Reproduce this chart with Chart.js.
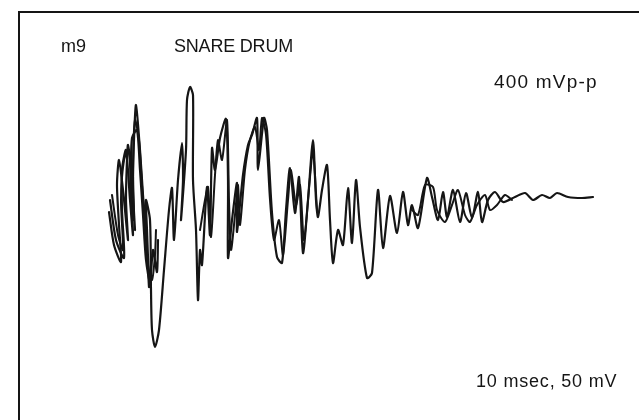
<!DOCTYPE html>
<html>
<head>
<meta charset="utf-8">
<script src="https://cdn.jsdelivr.net/npm/chart.js@4/dist/chart.umd.min.js"></script>
<style>
  html, body { margin: 0; padding: 0; background: #fff; }
  #wrap { position: relative; width: 639px; height: 420px; overflow: hidden; background: #fff; }
  #frame { position: absolute; left: 18px; top: 11px; right: -10px; bottom: -10px; border-top: 2px solid #151515; border-left: 2px solid #151515; }
  canvas { position: absolute; left: 0; top: 0; }
  .lbl { position: absolute; font-family: 'Liberation Sans', Arial, sans-serif; font-size: 18px; color: #151515; white-space: nowrap; line-height: 1; }
</style>
</head>
<body>
<div id="wrap">
  <div id="frame"></div>
  <canvas id="scope" width="639" height="420"></canvas>
  <div class="lbl" style="left:61px;top:37px">m9</div>
  <div class="lbl" style="left:174px;top:37px;letter-spacing:-0.2px">SNARE DRUM</div>
  <div class="lbl" style="left:494px;top:72px;font-size:19px;letter-spacing:1.2px">400 mVp-p</div>
  <div class="lbl" style="left:476px;top:372px;letter-spacing:0.8px">10 msec, 50 mV</div>
</div>
<script>
// time in msec, level in mV (readings, several overlaid sweeps)
const sweepATime = [0.1, 0.6, 1.3, 1.1, 0.9, 1.1, 1.5, 2.0, 1.8, 1.9, 2.0, 2.4, 2.7, 2.5, 2.6, 2.8, 3.2, 3.5, 3.9, 4.1,
  3.9, 3.8, 4.2, 4.3, 4.4, 4.7, 5.1, 5.6, 6.1, 6.4, 6.6, 7.0, 7.4, 7.5, 7.3, 7.8, 7.9, 8.2, 8.5, 8.5,
  8.8, 9.0, 9.2, 9.4, 9.9, 10.2, 10.4, 10.7, 11.2, 11.8, 12.0, 12.0, 12.4, 12.9, 12.9, 13.5, 14.0, 14.4, 14.9, 15.0,
  15.6, 15.9, 16.4, 16.9, 17.4, 17.8, 18.2, 18.7, 19.1, 19.5, 20.0, 20.5, 20.8, 21.0, 21.4, 21.9, 22.2, 22.5, 23.0, 23.5,
  24.0, 24.4, 24.8, 25.2, 25.9, 26.4, 27.0, 27.5, 28.2, 28.9, 29.5, 30.0, 30.4, 31.0, 31.9, 32.4, 33.0, 33.5, 33.9, 34.5,
  35.2, 35.8, 36.4, 37.0, 37.4, 38.0, 38.7, 39.5, 40.7, 41.7, 42.5, 43.4, 44.2, 44.9, 46.0, 47.4, 48.5]
const sweepAmV = [-22.5, -72, -97.5, -42, 18, 55.5, 10.5, -64.5, -4.5, 55.5, 78, 25.5, -49.5, 10.5, 85.5, 138, 70.5, 3, -79.5, -135,
  -49.5, -4.5, -34.5, -139.5, -199.5, -225, -199.5, -109.5, -19.5, 13.5, -64.5, 25.5, 81, 25.5, -34.5, 70.5, 145.5, 165, 153, 25.5,
  -49.5, -154.5, -79.5, -102, 15, -57, 73.5, 40.5, 88.5, 117, 25.5, -91.5, -34.5, 21, -52.5, 33, 78, 93, 118.5, 40.5,
  118.5, 100.5, -24, -90, -99, -19.5, 43.5, -24, 30, -84, -4.5, 85.5, -4.5, -30, 10.5, 48, -34.5, -99, -49.5, -72,
  13.5, -69, 25.5, -45, -121.5, -114, 10.5, -76.5, 1.5, -54, 7.5, -42, -12, -46.5, 28.5, 0, -34.5, 7.5, -30, 10.5,
  -37.5, 6, -31.5, 7.5, -37.5, -4.5, 7.5, -7.5, 0, 6, -4.5, 3, -1.5, 6, 0, -1.5, 0]

const sweepBTime = [0.2, 0.8, 1.6, 1.4, 1.4, 1.8, 2.2, 2.5, 2.3, 2.4, 2.9, 3.2, 3.5, 3.8, 4.2, 4.5, 4.9, 5.0]
const sweepBmV = [-4.5, -64.5, -91.5, -19.5, 40.5, 70.5, -4.5, -57, 25.5, 88.5, 100.5, 40.5, -27, -94.5, -127.5, -79.5, -112.5, -64.5]

const sweepCTime = [30.4, 31.0, 31.7, 32.5, 32.9, 33.7, 34.4, 35.0, 35.7, 36.2, 36.9, 37.7, 38.2, 38.9, 39.7, 40.4]
const sweepCmV = [-19.5, -27, 18, 15, -19.5, -37.5, -12, 10.5, -27, -37.5, -12, 3, -19.5, -12, 3, -4.5]

const sweepDTime = [9.2, 9.7, 10.0, 10.3, 10.7, 11.0, 11.4, 11.9, 12.1, 12.3, 12.7, 13.0, 13.2, 13.7, 14.2, 14.7,
  15.1, 15.4, 15.8, 16.2, 16.6, 17.1, 17.5, 18.0, 18.3, 18.8, 19.2, 19.6, 20.2, 20.5, 20.9]
const sweepDmV = [-49.5, -4.5, 15, -60, 33, 85.5, 55.5, 115.5, -4.5, -79.5, -27, 18, -42, 40.5, 85.5, 105,
  70.5, 118.5, 93, -4.5, -64.5, -34.5, -87, -4.5, 40.5, -12, 18, -64.5, 30, 70.5, -19.5]

const sweepETime = [0.4, 1.0, 1.5, 1.3, 1.6, 2.1, 2.3, 2.6, 2.5, 2.7, 3.1, 3.4, 3.7, 4.0, 4.4, 4.7, 4.8]
const sweepEmV = [3, -57, -79.5, -4.5, 55.5, 70.5, 3, -34.5, 40.5, 115.5, 85.5, 18, -42, -102, -124.5, -87, -49.5]

const pts = (t, v) => t.map((x, i) => ({ x, y: v[i] }))

const trace = (data, w) => ({
  data, showLine: true, fill: false, borderColor: '#151515', borderWidth: w,
  pointRadius: 0, tension: 0.25, borderJoinStyle: 'round', borderCapStyle: 'round'
})

new Chart(document.getElementById('scope'), {
  type: 'scatter',
  data: {
    datasets: [
      trace(pts(sweepATime, sweepAmV), 2.2),
      trace(pts(sweepBTime, sweepBmV), 2.2),
      trace(pts(sweepCTime, sweepCmV), 2),
      trace(pts(sweepDTime, sweepDmV), 2),
      trace(pts(sweepETime, sweepEmV), 2),
    ]
  },
  options: {
    responsive: false, animation: false, devicePixelRatio: 1,
    layout: { padding: 0 },
    plugins: { legend: { display: false }, tooltip: { enabled: false } },
    scales: {
      x: { type: 'linear', display: false, min: -10.8, max: 53.1 },
      y: { type: 'linear', display: false, min: -334.5, max: 295.5 }
    }
  }
})
</script>
</body>
</html>
